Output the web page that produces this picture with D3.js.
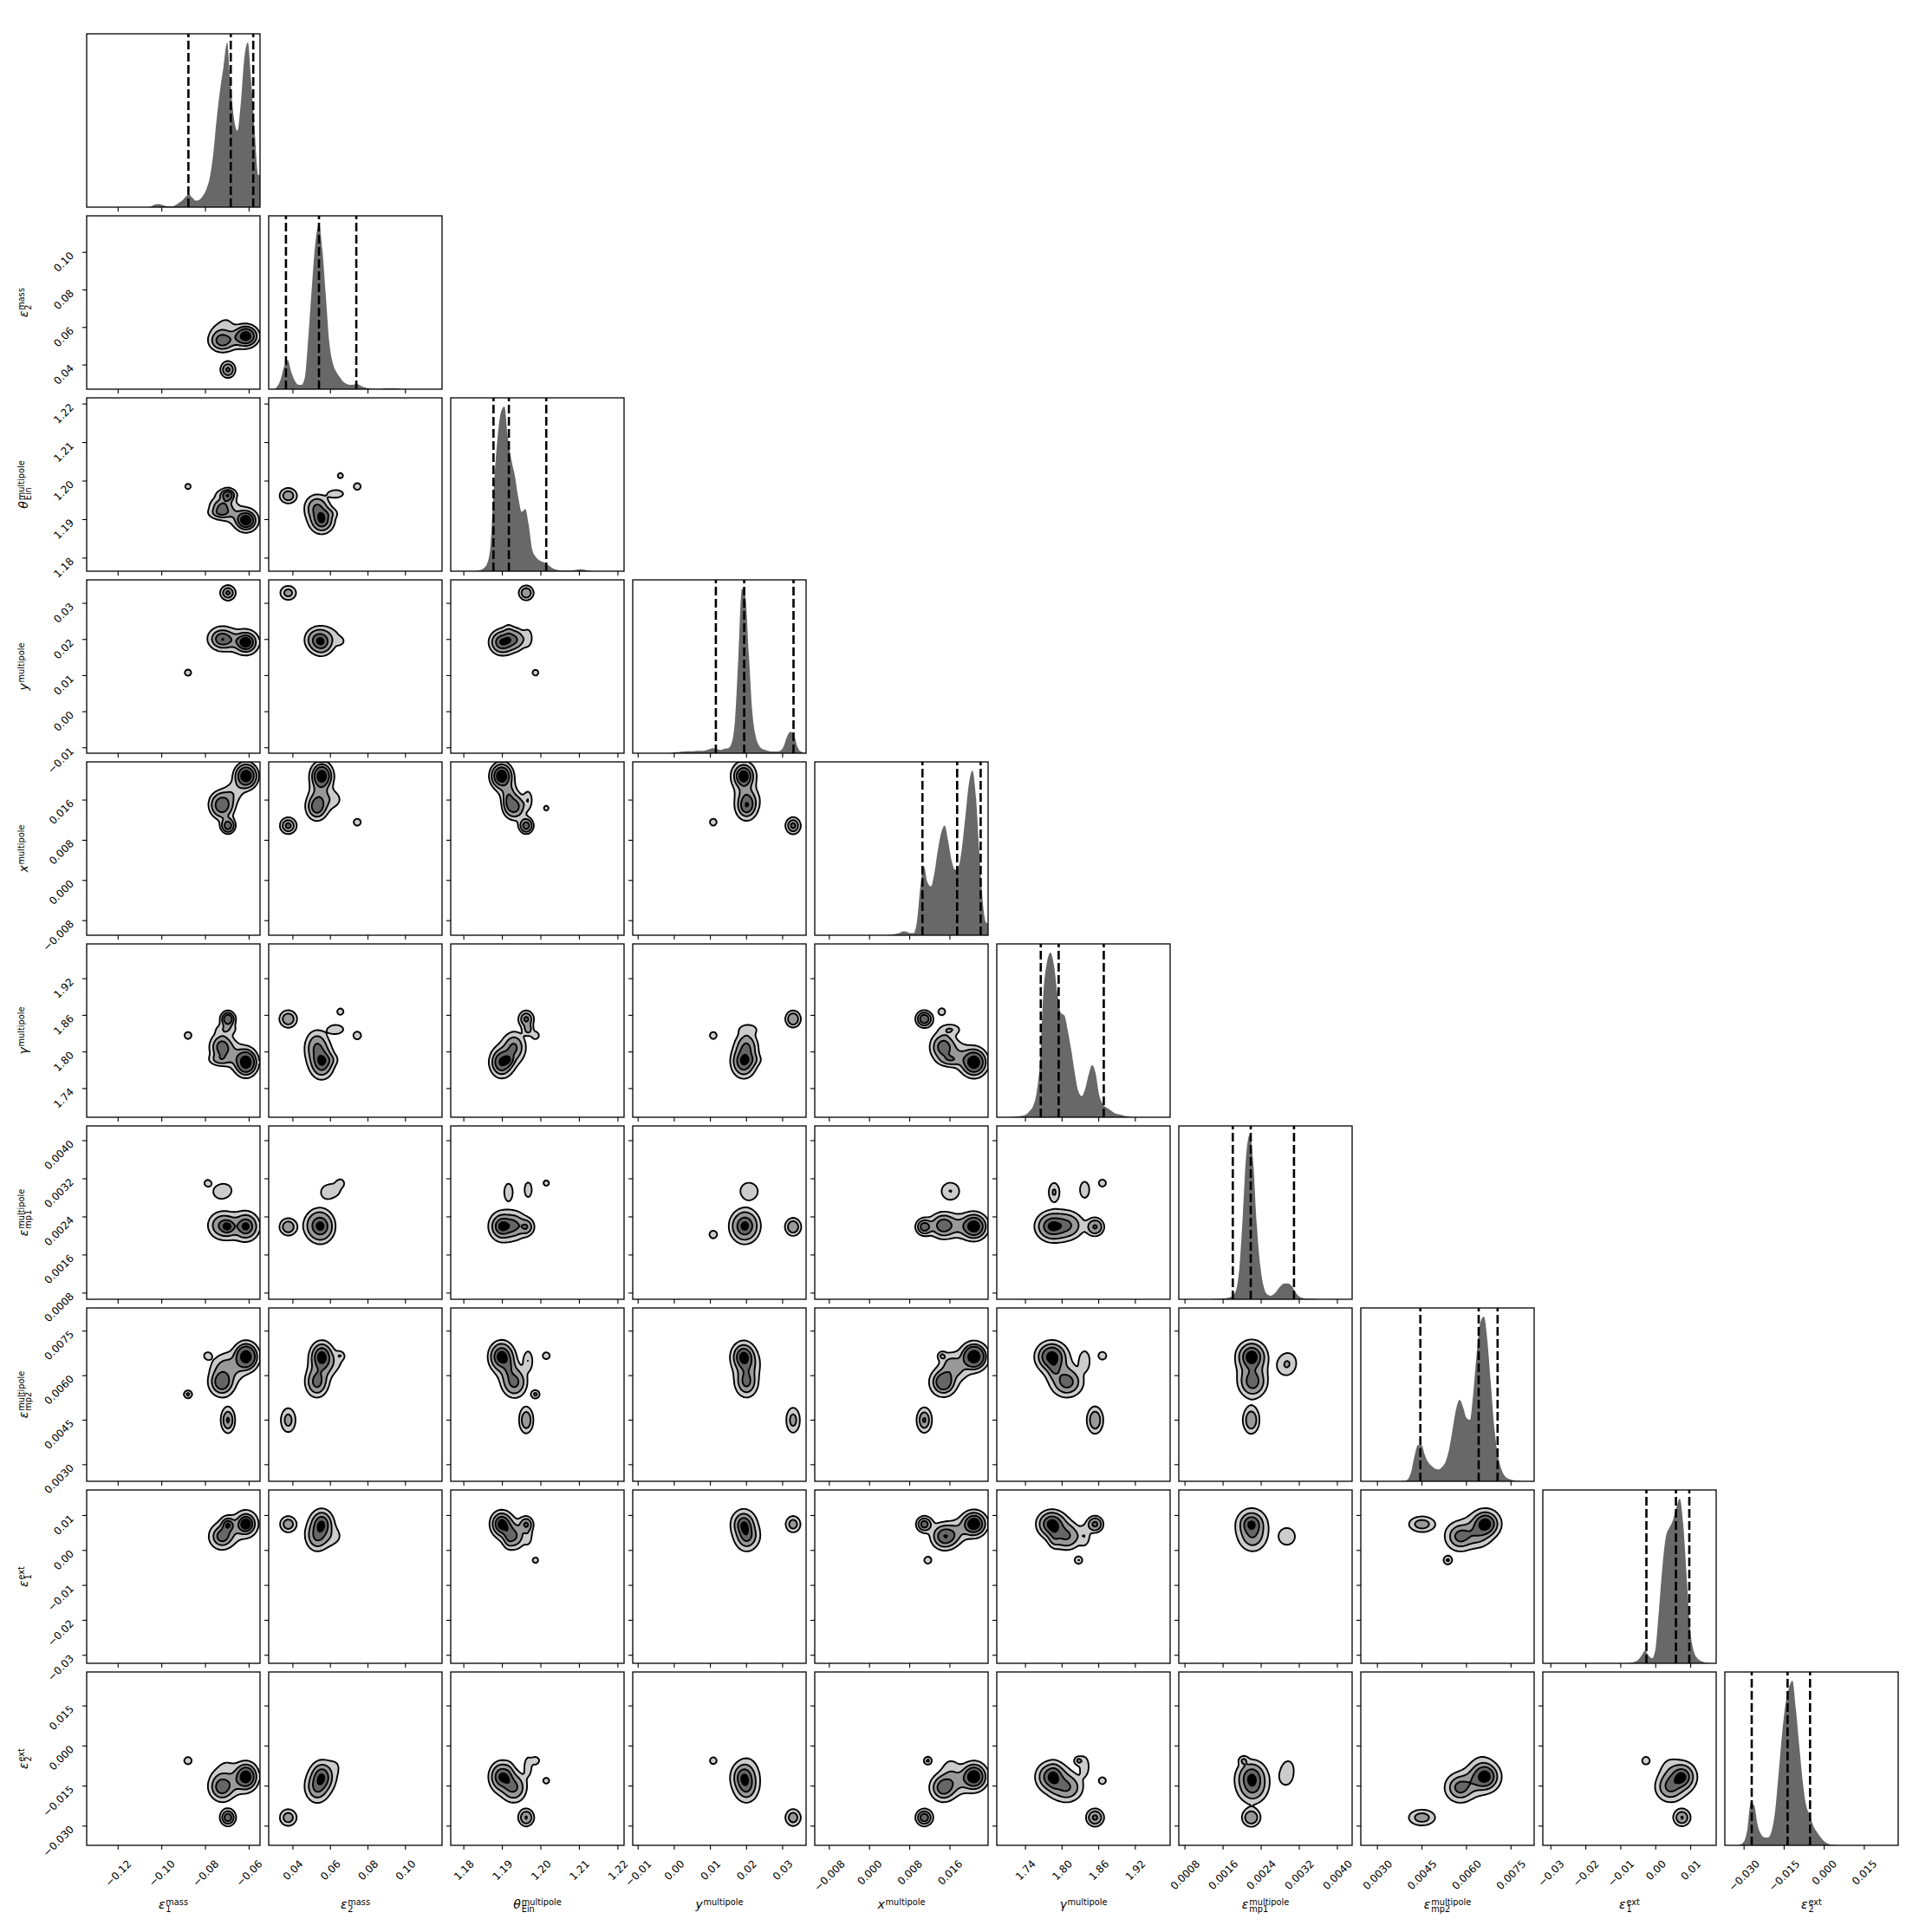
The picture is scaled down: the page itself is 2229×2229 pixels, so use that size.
<!DOCTYPE html>
<html><head><meta charset="utf-8">
<script src="https://cdn.jsdelivr.net/npm/d3@7"></script>
<style>html,body{margin:0;padding:0;background:#fff}svg{display:block}</style>
</head><body>
<svg id="c" width="2229" height="2229"></svg>
<script>
// ---------------- data ----------------
const paramSymbols = ["ε","ε","θ","y","x","γ","ε","ε","ε","ε"];
const paramSubs    = ["1","2","Ein","","","","mp1","mp2","1","2"];
const paramSups    = ["mass","mass","multipole","multipole","multipole","multipole","multipole","multipole","ext","ext"];
const paramRanges = [[-0.1344,-0.0550],[0.0271,0.1195],[1.1766,1.2216],[-0.0115,0.0365],[-0.0109,0.0236],
                     [1.693,1.977],[0.00067,0.00431],[0.00244,0.00828],[-0.0323,0.0173],[-0.0372,0.0277]];
const tickValues = [[-0.12,-0.10,-0.08,-0.06],[0.04,0.06,0.08,0.10],[1.18,1.19,1.20,1.21,1.22],
  [-0.01,0.00,0.01,0.02,0.03],[-0.008,0.000,0.008,0.016],[1.74,1.80,1.86,1.92],
  [0.0008,0.0016,0.0024,0.0032,0.0040],[0.0030,0.0045,0.0060,0.0075],[-0.03,-0.02,-0.01,0.00,0.01],
  [-0.030,-0.015,0.000,0.015]];
const tickDecimals = [2,2,2,2,3,2,4,4,2,3];
const quantileLines = [[-0.0878,-0.0684,-0.0581],[0.0363,0.0539,0.0738],[1.1877,1.1917,1.2014],
  [0.01152,0.01936,0.03302],[0.01053,0.01744,0.02212],[1.7651,1.7944,1.8683],
  [0.001804,0.002181,0.003089],[0.004446,0.006411,0.007048],[-0.002664,0.00579,0.00961],[-0.02714,-0.01371,-0.00530]];

// 1-D marginal histograms (50 bins across each axis range)
const hist0 = [0,0,0,0,0,0,0,0,0,0,0,0,0,0,0,0,0,0,2,8,10,9,5,3,3,6,14,22,35,42,32,22,25,38,60,100,180,300,400,480,560,420,300,260,360,510,560,420,250,110];
const hist1 = [0,1,10,35,80,100,60,30,16,15,45,190,360,510,569,480,320,160,90,60,42,26,18,15,16,18,12,7,4,2,1,1,1,3,3,3,3,2,0,0,0,0,0,0,0,0,0,0,0,0];
const hist2 = [0,0,0,0,0,0,0,1,4,10,26,90,300,460,550,569,460,385,330,255,205,215,160,75,50,38,32,27,18,10,5,3,2,2,2,3,5,7,5,2,1,0,0,0,0,0,0,0,0,0];
const hist3 = [0,0,0,0,0,0,0,0,0,0,0,3,6,8,10,12,12,12,14,14,15,20,28,30,24,20,28,30,60,200,600,1000,950,600,250,100,45,25,18,12,10,10,15,40,100,130,110,40,10,3];
const hist4 = [0,0,0,0,0,0,0,0,0,0,0,0,0,0,0,0,0,0,0,0,0,1,2,4,7,11,10,6,6,40,140,195,150,138,175,240,290,310,265,210,185,195,250,340,430,465,390,230,90,35];
const hist5 = [0,0,0,0,1,2,3,4,8,18,32,70,160,360,440,466,430,350,295,288,245,190,125,75,60,80,120,148,125,65,38,28,22,15,10,8,5,3,1,0,0,0,0,0,0,0,0,0,0,0];
const hist6 = [0,0,0,0,0,0,0,0,0,0,1,2,2,3,5,10,25,90,240,410,461,380,210,95,35,14,10,15,27,38,44,44,38,22,10,4,2,2,1,1,0,0,0,0,0,0,0,0,0,0];
const hist7 = [0,0,0,0,0,0,0,0,0,0,0,0,1,5,25,70,100,100,72,52,42,35,33,40,55,90,145,200,225,205,175,170,250,360,440,455,390,270,150,75,35,15,8,4,2,1,0,0,0,0];
const hist8 = [0,0,0,0,0,0,0,0,0,0,0,0,0,0,0,0,0,0,0,0,0,0,0,0,0,1,4,10,22,35,22,14,40,150,270,355,380,400,435,461,390,240,95,35,15,7,3,1,0,0];
const hist9 = [0,0,0,0,2,10,45,120,110,55,30,22,22,40,95,200,310,395,440,460,380,275,175,110,85,55,38,24,13,6,2,1,0,0,0,0,0,0,0,0,0,0,0,0,0,0,0,0,0,0];
const histograms = [hist0,hist1,hist2,hist3,hist4,hist5,hist6,hist7,hist8,hist9];

// posterior modes seen in the 2-D panels (centre and spread per parameter, relative weight)
// order: main, second, lower isolated, two faint upper-mp1 modes, two tiny isolated modes, bridge between main and second
const modeWeights = [0.41, 0.28, 0.11, 0.045, 0.035, 0.016, 0.012, 0.07];
const modeMeans = [
  [-0.0614,0.0554,1.1898,0.0192,0.0208,1.783,0.00220,0.00664,0.0076,-0.0115],
  [-0.0725,0.0528,1.1931,0.0200,0.0147,1.808,0.00222,0.00578,0.0040,-0.0156],
  [-0.0697,0.0375,1.1962,0.0329,0.0109,1.854,0.00219,0.00450,0.0075,-0.0268],
  [-0.0735,0.0580,1.1916,0.0209,0.0161,1.787,0.00292,0.00630,0.0040,-0.0120],
  [-0.0705,0.0630,1.1967,0.0205,0.0161,1.837,0.00297,0.00650,0.0040,-0.0075],
  [-0.0880,0.0743,1.1986,0.0108,0.0116,1.827,0.00203,0.00537,-0.0028,-0.0055],
  [-0.0790,0.0653,1.2014,0.0195,0.0144,1.866,0.00311,0.00667,0.0060,-0.0130],
  [-0.0670,0.0541,1.1915,0.0196,0.0177,1.795,0.00221,0.00621,0.0058,-0.0135]];
const modeSpreads = [
  [0.0026,0.0027,0.00140,0.0015,0.00126,0.0112,0.000130,0.00022,0.0018,0.0025],
  [0.0030,0.0029,0.00153,0.0015,0.00135,0.0126,0.000135,0.00024,0.0020,0.0026],
  [0.0018,0.0023,0.00100,0.00107,0.00086,0.0070,0.000090,0.00024,0.00122,0.0016],
  [0.0032,0.0032,0.00078,0.00180,0.00132,0.0058,0.000130,0.00023,0.0019,0.0029],
  [0.0032,0.0032,0.00078,0.00180,0.00132,0.0058,0.000130,0.00023,0.0019,0.0029],
  [0.0013,0.0015,0.00072,0.00076,0.00055,0.0046,0.000058,0.000092,0.00078,0.00102],
  [0.0013,0.0015,0.00072,0.00076,0.00055,0.0046,0.000058,0.000092,0.00078,0.00102],
  [0.0030,0.0029,0.00150,0.0015,0.00135,0.0126,0.000135,0.00024,0.0020,0.0026]];
const haloFraction = [0.32, 0.32, 0.25, 0, 0, 0, 0, 0.3];
const haloWidening = 1.8;
// panels [row, col] in which the two tiny isolated modes (index 5 and 6) show up
const modeEPanels = [[2,0],[3,0],[5,0],[7,0],[9,0],[2,1],[4,1],[5,1],[3,2],[5,2],[7,2],[8,2],[9,2],[4,3],[5,3],[6,3],[9,3],[8,4],[9,4],[8,5],[9,5],[9,6],[8,7],[9,8]];
const modeFPanels = [[6,0],[7,0],[2,1],[3,1],[5,1],[6,1],[7,1],[4,2],[6,2],[7,2],[9,2],[5,4],[7,4],[6,5],[7,5],[9,5]];
const contourMassLevels = [0.118, 0.393, 0.675, 0.865];

// ---------------- drawing ----------------
const NP = 10, P = 200, GAP = 10, LEFT = 100, TOP = 39;
const FONT = "DejaVu Sans";
const bandFills = ["#cccccc","#999999","#666666","#000000"];
const svg = d3.select("#c");
svg.append("rect").attr("width",2229).attr("height",2229).attr("fill","#fff");
const xs = paramRanges.map(r => d3.scaleLinear().domain(r).range([0,P]));
const ys = paramRanges.map(r => d3.scaleLinear().domain(r).range([P,0]));
const defs = svg.append("defs");
defs.append("clipPath").attr("id","pclip").append("rect").attr("width",P).attr("height",P);

function fmt(v,d){ const s = Math.abs(v).toFixed(d); return (v < 0 && +s !== 0 ? "\u2212" : "") + s; }
const inList = (list,i,j) => list.some(p => p[0]===i && p[1]===j);

const G = 100;
function addGauss(vals, w, mx, sx, my, sy, xl, xh, yl, yh){
  const gx=new Float64Array(G), gy=new Float64Array(G);
  for (let k=0;k<G;k++){
    const x = xl + (k+0.5)/G*(xh-xl); gx[k] = Math.exp(-0.5*((x-mx)/sx)**2)/sx;
    const y = yh - (k+0.5)/G*(yh-yl); gy[k] = Math.exp(-0.5*((y-my)/sy)**2)/sy;
  }
  for (let r=0;r<G;r++){ const a=w*gy[r]; if(a<1e-300) continue; for(let c=0;c<G;c++) vals[r*G+c]+=a*gx[c]; }
}
function density(i, j){
  const [xl,xh] = paramRanges[j], [yl,yh] = paramRanges[i];
  const vals = new Float64Array(G*G);
  for (let m=0;m<modeWeights.length;m++){
    if (m===5 && !inList(modeEPanels,i,j)) continue;
    if (m===6 && !inList(modeFPanels,i,j)) continue;
    const mx=modeMeans[m][j], sx=modeSpreads[m][j], my=modeMeans[m][i], sy=modeSpreads[m][i], w=modeWeights[m], hf=haloFraction[m];
    addGauss(vals, w*(1-hf), mx, sx, my, sy, xl, xh, yl, yh);
    if (hf>0) addGauss(vals, w*hf, mx, sx*haloWidening, my, sy*haloWidening, xl, xh, yl, yh);
  }
  return vals;
}
function hpdThresholds(vals){
  const s = Array.from(vals).sort((a,b)=>b-a);
  const tot = d3.sum(s); let cum=0; const cums = s.map(v=>(cum+=v)/tot);
  const V = contourMassLevels.map(l=>{ let idx=-1; for(let k=0;k<cums.length;k++){ if(cums[k]<=l) idx=k; else break; } return idx>=0 ? s[idx] : s[0]; });
  return V.sort((a,b)=>a-b);
}
const gridPath = d3.geoPath(d3.geoIdentity().scale(P/G));

for (let i=0;i<NP;i++){
  for (let j=0;j<=i;j++){
    const g = svg.append("g").attr("transform",`translate(${LEFT+j*(P+GAP)},${TOP+i*(P+GAP)})`);
    const inner = g.append("g").attr("clip-path","url(#pclip)");
    if (i===j){
      const h = histograms[i], n = h.length, mx = d3.max(h);
      const [lo,hi] = paramRanges[i];
      const hy = d3.scaleLinear().domain([0, mx*1.053]).range([P,0]);
      const pts = [[lo,h[0]]];
      h.forEach((v,k)=> pts.push([lo+(k+0.5)*(hi-lo)/n, v]));
      pts.push([hi,h[n-1]]);
      inner.append("path").datum(pts).attr("fill","#686868").attr("stroke","none")
        .attr("d", d3.area().curve(d3.curveMonotoneX).x(d=>xs[i](d[0])).y0(P).y1(d=>hy(d[1])));
      quantileLines[i].forEach(q=>{
        inner.append("line").attr("x1",xs[i](q)).attr("x2",xs[i](q)).attr("y1",P).attr("y2",0)
          .attr("stroke","#000").attr("stroke-width",2.6).attr("stroke-dasharray","10,4");
      });
    } else {
      const vals = density(i,j);
      const V = hpdThresholds(vals);
      const conts = d3.contours().size([G,G]).thresholds(V)(vals);
      conts.forEach((c,k)=> inner.append("path").attr("d",gridPath(c)).attr("fill",bandFills[k]).attr("stroke","none"));
      conts.forEach((c,k)=> inner.append("path").attr("d",gridPath(c)).attr("fill","none").attr("stroke","#000").attr("stroke-width",1.9).attr("stroke-linejoin","round"));
    }
    g.append("rect").attr("width",P).attr("height",P).attr("fill","none").attr("stroke","#000").attr("stroke-width",1.3);
    tickValues[j].forEach(v=>{
      const x = xs[j](v); if (x<0||x>P) return;
      g.append("line").attr("x1",x).attr("x2",x).attr("y1",P).attr("y2",P+5).attr("stroke","#000").attr("stroke-width",1.1);
      if (i===NP-1){
        const t = g.append("text").text(fmt(v,tickDecimals[j])).attr("font-family",FONT).attr("font-size",12).attr("fill","#000");
        const L = t.node().getComputedTextLength(), hh = 0.73*12;
        const px = x + 0.354*(L+hh), py = P + 16 + 0.707*hh;
        t.attr("x",px).attr("y",py).attr("text-anchor","end").attr("transform",`rotate(-45,${px},${py})`);
      }
    });
    if (i!==j){
      tickValues[i].forEach(v=>{
        const y = ys[i](v); if (y<0||y>P) return;
        g.append("line").attr("x1",0).attr("x2",-5).attr("y1",y).attr("y2",y).attr("stroke","#000").attr("stroke-width",1.1);
        if (j===0){
          const px = -14, py = y + 4.5;
          g.append("text").text(fmt(v,tickDecimals[i])).attr("font-family",FONT).attr("font-size",12).attr("fill","#000")
            .attr("x",px).attr("y",py).attr("text-anchor","end").attr("transform",`rotate(-45,${px},${py})`);
        }
      });
    }
  }
}

function axisLabel(idx, x, y, rotated){
  const g = svg.append("g");
  const main = g.append("text").text(paramSymbols[idx]).attr("font-family",FONT).attr("font-size",14).attr("font-style","italic").attr("fill","#000");
  const w0 = main.node().getComputedTextLength() + 0.8;
  let w1=0, w2=0;
  if (paramSups[idx]){ const s = g.append("text").text(paramSups[idx]).attr("font-family",FONT).attr("font-size",9.8).attr("x",w0).attr("y",-4.2).attr("fill","#000"); w1 = s.node().getComputedTextLength(); }
  if (paramSubs[idx]){ const s = g.append("text").text(paramSubs[idx]).attr("font-family",FONT).attr("font-size",9.8).attr("x",w0).attr("y",4.3).attr("fill","#000"); w2 = s.node().getComputedTextLength(); }
  const tot = w0 + Math.max(w1,w2);
  if (rotated) g.attr("transform",`translate(${x},${y}) rotate(-90) translate(${-tot/2},0)`);
  else g.attr("transform",`translate(${x - tot/2},${y})`);
}
for (let j=0;j<NP;j++) axisLabel(j, LEFT + j*(P+GAP) + P/2, 2202, false);
for (let i=1;i<NP;i++) axisLabel(i, 32, TOP + i*(P+GAP) + P/2, true);
</script>
</body></html>
